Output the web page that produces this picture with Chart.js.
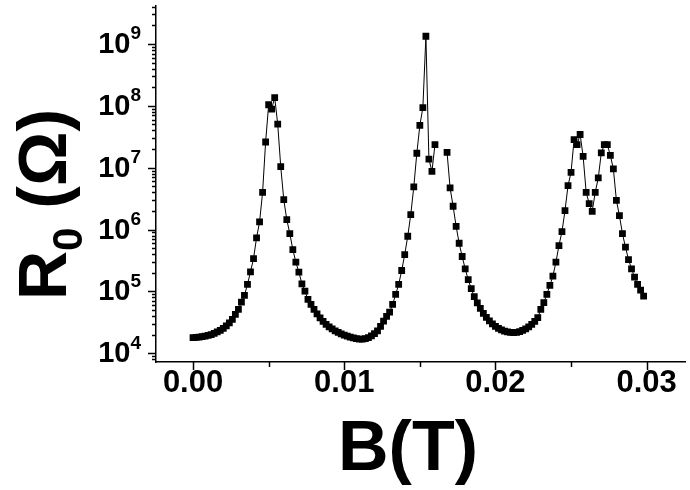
<!DOCTYPE html>
<html>
<head>
<meta charset="utf-8">
<script src="https://cdn.jsdelivr.net/npm/chart.js@4.4.0/dist/chart.umd.min.js"></script>
<style>
  html, body { margin: 0; padding: 0; background: #fff; }
  #wrap { width: 690px; height: 490px; }
</style>
</head>
<body>
<div id="wrap"><canvas id="chart" width="690" height="490"></canvas></div>
<script>
// magnetic field B (T)
const fieldB = [
  0.0000, 0.0002, 0.0004, 0.0006, 0.0008, 0.0010, 0.0012, 0.0014, 0.0016, 0.0018,
  0.0020, 0.0022, 0.0024, 0.0026, 0.0028, 0.0030, 0.0032, 0.0034, 0.0036, 0.0038,
  0.0040, 0.0042, 0.0044, 0.0046, 0.0048, 0.0050, 0.0052, 0.0054, 0.0056, 0.0058,
  0.0060, 0.0062, 0.0064, 0.0066, 0.0068, 0.0070, 0.0072, 0.0074, 0.0076, 0.0078,
  0.0080, 0.0082, 0.0084, 0.0086, 0.0088, 0.0090, 0.0092, 0.0094, 0.0096, 0.0098,
  0.0100, 0.0102, 0.0104, 0.0106, 0.0108, 0.0110, 0.0112, 0.0114, 0.0116, 0.0118,
  0.0120, 0.0122, 0.0124, 0.0126, 0.0128, 0.0130, 0.0132, 0.0134, 0.0136, 0.0138,
  0.0140, 0.0142, 0.0144, 0.0146, 0.0148, 0.0150, 0.0152, 0.0154, 0.0156, 0.0158,
  0.0160, 0.0162, 0.0164, 0.0166, 0.0168, 0.0170, 0.0172, 0.0174, 0.0176, 0.0178,
  0.0180, 0.0182, 0.0184, 0.0186, 0.0188, 0.0190, 0.0192, 0.0194, 0.0196, 0.0198,
  0.0200, 0.0202, 0.0204, 0.0206, 0.0208, 0.0210, 0.0212, 0.0214, 0.0216, 0.0218,
  0.0220, 0.0222, 0.0224, 0.0226, 0.0228, 0.0230, 0.0232, 0.0234, 0.0236, 0.0238,
  0.0240, 0.0242, 0.0244, 0.0246, 0.0248, 0.0250, 0.0252, 0.0254, 0.0256, 0.0258,
  0.0260, 0.0262, 0.0264, 0.0266, 0.0268, 0.0270, 0.0272, 0.0274, 0.0276, 0.0278,
  0.0280, 0.0282, 0.0284, 0.0286, 0.0288, 0.0290, 0.0292, 0.0294, 0.0296, 0.0298
];

// R0 (ohm), null = no reading
const resistance = [
  1.80e4, 1.81e4, 1.83e4, 1.86e4, 1.89e4, 1.95e4, 2.01e4, 2.10e4, 2.22e4, 2.35e4,
  2.53e4, 2.78e4, 3.10e4, 3.53e4, 4.25e4, 5.13e4, 6.72e4, 8.61e4, 1.30e5, 2.08e5,
  3.40e5, 7.35e5, 1.33e6, 4.00e6, 2.60e7, 1.04e8, 8.85e7, 1.36e8, 5.07e7, 1.04e7,
  3.05e6, 1.45e6, 8.61e5, 4.75e5, 2.97e5, 2.05e5, 1.33e5, 1.01e5, 7.43e4, 6.17e4,
  5.13e4, 4.34e4, 3.74e4, 3.28e4, 2.94e4, 2.67e4, 2.48e4, 2.31e4, 2.18e4, 2.07e4,
  1.97e4, 1.89e4, 1.83e4, 1.78e4, 1.73e4, 1.70e4, 1.70e4, 1.73e4, 1.80e4, 1.91e4,
  2.08e4, 2.31e4, 2.72e4, 3.32e4, 3.95e4, 4.64e4, 6.17e4, 8.95e4, 1.30e5, 2.18e5,
  3.95e5, 7.80e5, 1.75e6, 4.89e6, 1.71e7, 4.81e7, 9.35e7, 1.33e9, 1.38e7, 8.71e6,
  2.35e7, null, null, null, 1.77e7, 4.71e6, 2.38e6, 1.13e6, 6.01e5, 3.67e5,
  2.32e5, 1.55e5, 1.11e5, 8.22e4, 6.53e4, 5.32e4, 4.42e4, 3.81e4, 3.34e4, 2.99e4,
  2.72e4, 2.53e4, 2.39e4, 2.29e4, 2.22e4, 2.18e4, 2.16e4, 2.18e4, 2.24e4, 2.35e4,
  2.48e4, 2.67e4, 2.94e4, 3.28e4, 3.77e4, 5.13e4, 6.58e4, 8.95e4, 1.25e5, 1.77e5,
  2.97e5, 5.52e5, 9.29e5, 2.02e6, 5.13e6, 8.40e6, 2.83e7, 2.35e7, 3.44e7, 1.52e7,
  4.00e6, 2.62e6, 1.97e6, 4.00e6, 6.82e6, 1.73e7, 2.35e7, 2.35e7, 1.58e7, 9.53e6,
  2.97e6, 1.68e6, 8.61e5, 5.19e5, 3.28e5, 2.32e5, 1.70e5, 1.30e5, 1.05e5, 8.40e4
];

const xMajorTicks = [0.00, 0.01, 0.02, 0.03];
const xMinorTicks = [0.005, 0.015, 0.025];
const yDecades = [4, 5, 6, 7, 8, 9];

const FONT = '"Liberation Sans", Arial, Helvetica, sans-serif';

const points = fieldB.map((b, i) => ({ x: b, y: resistance[i] }));

// ticks, decade labels with superscripts and the axis titles
const axisExtras = {
  id: 'axisExtras',
  afterDraw(chart) {
    const { ctx, chartArea: area, scales: { x, y } } = chart;
    ctx.save();
    ctx.strokeStyle = '#000';
    ctx.fillStyle = '#000';
    ctx.lineWidth = 1.5;

    // y ticks (log, majors on decades)
    for (let d = 3; d <= 9; d++) {
      for (let m = 1; m <= 9; m++) {
        const v = m * Math.pow(10, d);
        if (v < y.min || v > y.max) continue;
        const py = Math.round(y.getPixelForValue(v)) + 0.5;
        const len = m === 1 ? 8 : 4;
        ctx.beginPath();
        ctx.moveTo(area.left - len, py);
        ctx.lineTo(area.left, py);
        ctx.stroke();
      }
    }

    // x ticks
    xMajorTicks.concat(xMinorTicks).forEach(v => {
      const px = Math.round(x.getPixelForValue(v)) + 0.5;
      const len = xMajorTicks.includes(v) ? 8 : 5;
      ctx.beginPath();
      ctx.moveTo(px, area.bottom);
      ctx.lineTo(px, area.bottom + len);
      ctx.stroke();
    });

    // y labels: 10 with exponent
    ctx.textAlign = 'right';
    yDecades.forEach(d => {
      const py = y.getPixelForValue(Math.pow(10, d));
      ctx.font = 'bold 19px ' + FONT;
      const expW = ctx.measureText(String(d)).width;
      ctx.textBaseline = 'middle';
      ctx.fillText(String(d), 141, py - 10);
      ctx.font = 'bold 29px ' + FONT;
      ctx.fillText('10', 141 - expW, py + 1);
    });

    // x title
    ctx.textAlign = 'center';
    ctx.textBaseline = 'alphabetic';
    ctx.font = 'bold 70px ' + FONT;
    ctx.fillText('B(T)', 408, 470);

    // y title, rotated
    ctx.translate(66, 300);
    ctx.rotate(-Math.PI / 2);
    ctx.textAlign = 'left';
    ctx.font = 'bold 68px ' + FONT;
    ctx.fillText('R', 0, 0);
    let cx = ctx.measureText('R').width;
    ctx.font = 'bold 42px ' + FONT;
    ctx.fillText('0', cx, 16);
    cx += ctx.measureText('0').width;
    ctx.font = 'bold 68px ' + FONT;
    ctx.fillText(' (\u03A9)', cx, 0);
    ctx.restore();
  }
};

new Chart(document.getElementById('chart'), {
  type: 'line',
  data: {
    datasets: [{
      data: points,
      borderColor: '#000',
      borderWidth: 1,
      backgroundColor: '#000',
      pointStyle: 'rect',
      pointRadius: 4.8,
      pointBorderWidth: 0,
      spanGaps: false,
      tension: 0
    }]
  },
  options: {
    responsive: false,
    animation: false,
    devicePixelRatio: 1,
    layout: { padding: { left: 0, top: 6, right: 2, bottom: 0 } },
    plugins: { legend: { display: false }, tooltip: { enabled: false } },
    scales: {
      x: {
        type: 'linear',
        min: -0.00245,
        max: 0.03255,
        grid: { display: false, drawTicks: false },
        border: { display: true, color: '#000', width: 1.5 },
        afterFit: s => { s.height = 128; },
        ticks: {
          stepSize: 0.01,
          includeBounds: false,
          autoSkip: false,
          maxRotation: 0,
          padding: 3,
          color: '#000',
          font: { family: FONT, size: 31, weight: 'bold' },
          callback: v => Number(v).toFixed(2)
        }
      },
      y: {
        type: 'logarithmic',
        min: 7244,
        max: 4.1e9,
        grid: { display: false, drawTicks: false },
        border: { display: true, color: '#000', width: 1.5 },
        afterFit: s => { s.width = 156; },
        ticks: { display: false }
      }
    }
  },
  plugins: [axisExtras]
});
</script>
</body>
</html>
